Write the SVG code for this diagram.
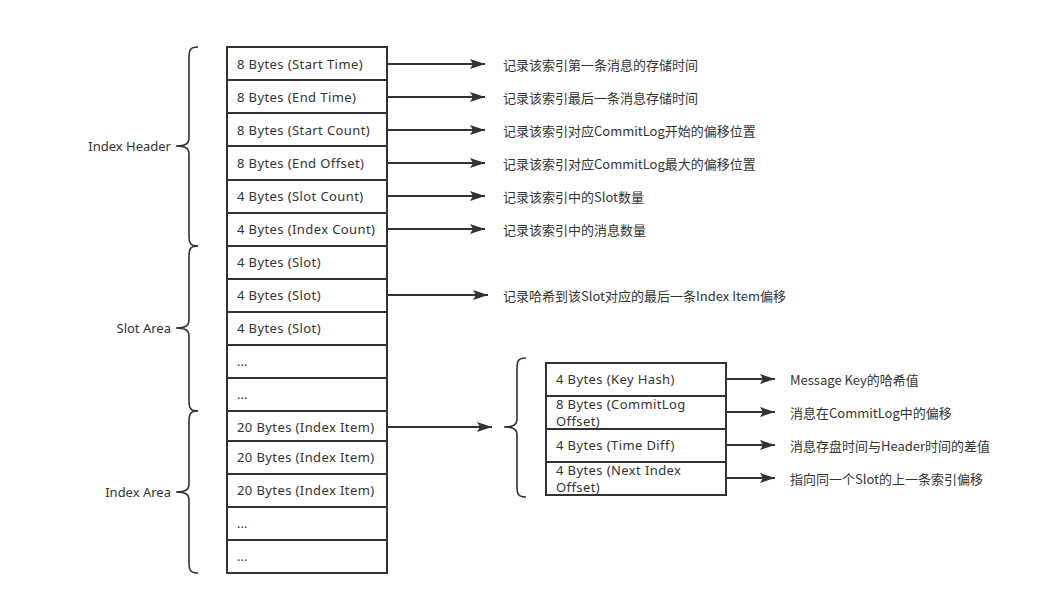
<svg xmlns="http://www.w3.org/2000/svg" width="1057" height="605" viewBox="0 0 1057 605">
<defs>
<marker id="ah" markerWidth="16" markerHeight="10" refX="15" refY="5" orient="auto" markerUnits="userSpaceOnUse">
<path d="M0,0 L15,5 L0,10 L3,5 Z" fill="#333"/>
</marker>
</defs>
<style>
text{font-family:"Noto Sans","Noto Sans CJK SC",sans-serif;font-size:13px;fill:#333;dominant-baseline:central}
.c{font-family:"Noto Sans CJK SC","Noto Sans",sans-serif}
.t{letter-spacing:0.4px}
.box{fill:#fff;stroke:#333;stroke-width:2}
.br{fill:none;stroke:#333;stroke-width:1.6}
.ar{stroke:#333;stroke-width:2;fill:none;marker-end:url(#ah)}
.lb{text-anchor:end}
</style>
<rect width="1057" height="605" fill="#fff"/>
<g id="braces">
<path class="br" d="M198,47 C190,47 189,50 189,58 L189,138 C189,144 185,146 176,146 C185,146 189,148 189,154 L189,235 C189,243 190,246 198,246"/>
<path class="br" d="M198,246 C190,246 189,249 189,257 L189,320 C189,326 185,328 176,328 C185,328 189,330 189,336 L189,400 C189,408 190,411 198,411"/>
<path class="br" d="M198,411 C190,411 189,414 189,422 L189,484 C189,490 185,492 176,492 C185,492 189,494 189,500 L189,562 C189,570 190,573 198,573"/>
<path class="br" d="M526,358 C518,358 517,361 517,369 L517,419 C517,425 513,427 504,427 C513,427 517,429 517,435 L517,486 C517,494 518,497 526,497"/>
</g>
<g id="labels">
<text class="lb" x="171" y="146">Index Header</text>
<text class="lb" x="171" y="328">Slot Area</text>
<text class="lb" x="171" y="492">Index Area</text>
</g>
<g id="main">
<rect class="box" x="227" y="47" width="160" height="526"/>
<g stroke="#333" stroke-width="2">
<line x1="227" y1="80" x2="387" y2="80"/>
<line x1="227" y1="113" x2="387" y2="113"/>
<line x1="227" y1="146" x2="387" y2="146"/>
<line x1="227" y1="180" x2="387" y2="180"/>
<line x1="227" y1="213" x2="387" y2="213"/>
<line x1="227" y1="246" x2="387" y2="246"/>
<line x1="227" y1="279" x2="387" y2="279"/>
<line x1="227" y1="312" x2="387" y2="312"/>
<line x1="227" y1="345" x2="387" y2="345"/>
<line x1="227" y1="378" x2="387" y2="378"/>
<line x1="227" y1="411" x2="387" y2="411"/>
<line x1="227" y1="441" x2="387" y2="441"/>
<line x1="227" y1="474" x2="387" y2="474"/>
<line x1="227" y1="507" x2="387" y2="507"/>
<line x1="227" y1="540" x2="387" y2="540"/>
</g>
<text class="t" x="237" y="64">8 Bytes (Start Time)</text>
<text class="t" x="237" y="97">8 Bytes (End Time)</text>
<text class="t" x="237" y="130">8 Bytes (Start Count)</text>
<text class="t" x="237" y="163">8 Bytes (End Offset)</text>
<text class="t" x="237" y="196">4 Bytes (Slot Count)</text>
<text class="t" x="237" y="229">4 Bytes (Index Count)</text>
<text class="t" x="237" y="262">4 Bytes (Slot)</text>
<text class="t" x="237" y="295">4 Bytes (Slot)</text>
<text class="t" x="237" y="328">4 Bytes (Slot)</text>
<text x="237" y="361" font-size="10">...</text>
<text x="237" y="394" font-size="10">...</text>
<text class="t" x="237" y="427">20 Bytes (Index Item)</text>
<text class="t" x="237" y="457">20 Bytes (Index Item)</text>
<text class="t" x="237" y="490">20 Bytes (Index Item)</text>
<text x="237" y="523" font-size="10">...</text>
<text x="237" y="556" font-size="10">...</text>
</g>
<g id="sub">
<rect class="box" x="546" y="363" width="180" height="132"/>
<g stroke="#333" stroke-width="2">
<line x1="546" y1="396" x2="726" y2="396"/>
<line x1="546" y1="429" x2="726" y2="429"/>
<line x1="546" y1="462" x2="726" y2="462"/>
</g>
<text class="t" x="556" y="379">4 Bytes (Key Hash)</text>
<text class="t" x="556" y="403.5">8 Bytes (CommitLog</text>
<text class="t" x="556" y="420.5">Offset)</text>
<text class="t" x="556" y="445">4 Bytes (Time Diff)</text>
<text class="t" x="556" y="469.5">4 Bytes (Next Index</text>
<text class="t" x="556" y="486.5">Offset)</text>
</g>
<g id="connectors">
<line class="ar" x1="388" y1="64" x2="485" y2="64"/>
<line class="ar" x1="388" y1="97" x2="485" y2="97"/>
<line class="ar" x1="388" y1="130" x2="485" y2="130"/>
<line class="ar" x1="388" y1="163" x2="485" y2="163"/>
<line class="ar" x1="388" y1="196" x2="485" y2="196"/>
<line class="ar" x1="388" y1="229" x2="485" y2="229"/>
<line class="ar" x1="388" y1="295" x2="488" y2="295"/>
<line class="ar" x1="388" y1="427" x2="492" y2="427"/>
<line class="ar" x1="727" y1="379" x2="775" y2="379"/>
<line class="ar" x1="727" y1="412" x2="775" y2="412"/>
<line class="ar" x1="727" y1="445" x2="775" y2="445"/>
<line class="ar" x1="727" y1="478" x2="775" y2="478"/>
</g>
<g id="notes">
<text class="c" x="503" y="64">记录该索引第一条消息的存储时间</text>
<text class="c" x="503" y="97">记录该索引最后一条消息存储时间</text>
<text class="c" x="503" y="130">记录该索引对应CommitLog开始的偏移位置</text>
<text class="c" x="503" y="163">记录该索引对应CommitLog最大的偏移位置</text>
<text class="c" x="503" y="196">记录该索引中的Slot数量</text>
<text class="c" x="503" y="229">记录该索引中的消息数量</text>
<text class="c" x="503" y="295">记录哈希到该Slot对应的最后一条Index Item偏移</text>
<text class="c" x="790" y="379">Message Key的哈希值</text>
<text class="c" x="790" y="412">消息在CommitLog中的偏移</text>
<text class="c" x="790" y="445">消息存盘时间与Header时间的差值</text>
<text class="c" x="790" y="478">指向同一个Slot的上一条索引偏移</text>
</g>
</svg>
